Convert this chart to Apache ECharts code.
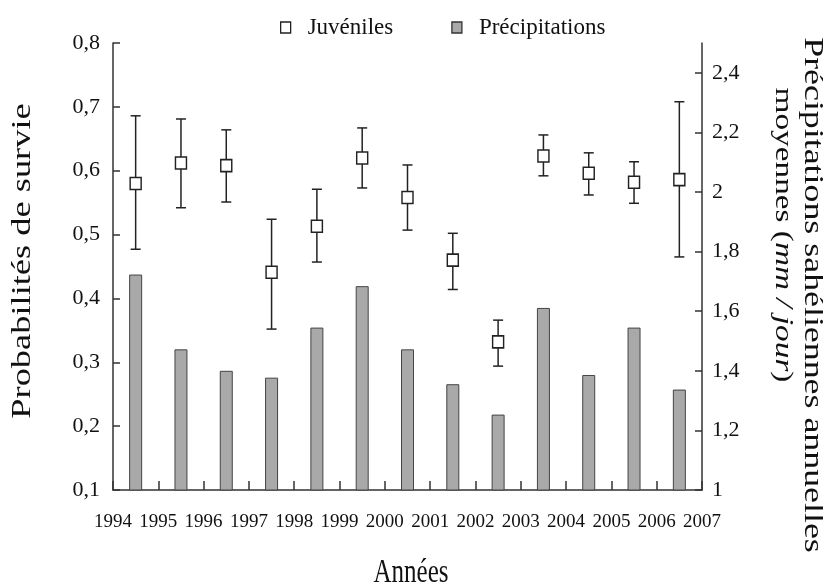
<!DOCTYPE html>
<html><head><meta charset="utf-8">
<script src="https://cdn.jsdelivr.net/npm/echarts@6/dist/echarts.min.js"></script>
<style>html,body{margin:0;padding:0;background:#fff}#c{width:823px;height:587px}</style>
</head><body><div id="c"></div>
<script>
// Seasons (start year of each interval)
const years = [1994,1995,1996,1997,1998,1999,2000,2001,2002,2003,2004,2005,2006];
// Juvenile survival probability and confidence limits
const survival = [0.580,0.612,0.608,0.441,0.513,0.620,0.558,0.460,0.332,0.623,0.596,0.582,0.586];
const lower    = [0.477,0.542,0.551,0.352,0.457,0.573,0.507,0.414,0.294,0.592,0.562,0.549,0.465];
const upper    = [0.686,0.681,0.664,0.524,0.571,0.667,0.609,0.502,0.366,0.656,0.628,0.614,0.708];
// Mean annual Sahelian precipitation (mm/day)
const precip   = [1.723,1.472,1.400,1.377,1.545,1.684,1.472,1.355,1.253,1.611,1.386,1.545,1.337];
// Tick labels
const xTickLabels = ['1994','1995','1996','1997','1998','1999','2000','2001','2002','2003','2004','2005','2006','2007'];
const leftTicks  = [0.1,0.2,0.3,0.4,0.5,0.6,0.7,0.8];
const rightTicks = [1,1.2,1.4,1.6,1.8,2,2.2,2.4];

const SERIF = '"Liberation Serif","Times New Roman",serif';
const AX = '#333';
const chart = echarts.init(document.getElementById('c'), null, {renderer:'canvas'});
const mid = years.map(y => y + 0.5);

chart.setOption({
  animation: false,
  backgroundColor: '#fff',
  textStyle: {fontFamily: SERIF, color: '#111'},
  grid: {left: 113, right: 121, top: 43, bottom: 97, containLabel: false},
  legend: {
    left: 275, top: 11, itemWidth: 10, itemHeight: 11, itemGap: 58,
    textStyle: {fontFamily: SERIF, fontSize: 23, color: '#111', padding: [0,0,0,12]},
    data: [
      {name: 'Juvéniles', icon: 'rect', itemStyle: {color: '#fff', borderColor: '#222', borderWidth: 1.3}},
      {name: 'Précipitations', icon: 'rect', itemStyle: {color: '#a9a9a9', borderColor: '#333', borderWidth: 1.3}}
    ]
  },
  xAxis: {
    type: 'value', min: 1994, max: 2007, interval: 1,
    axisLine: {lineStyle: {color: AX, width: 1.5}},
    axisTick: {inside: true, length: 9, lineStyle: {color: AX, width: 1.5}},
    axisLabel: {
      customValues: xTickLabels.map(Number),
      formatter: v => String(v), fontFamily: SERIF, fontSize: 19, color: '#111', margin: 23
    },
    splitLine: {show: false}
  },
  yAxis: [
    {
      type: 'value', min: 0.1, max: 0.8, position: 'left',
      axisLine: {show: true, lineStyle: {color: AX, width: 1.5}},
      axisTick: {show: true, inside: true, length: 7, customValues: leftTicks, lineStyle: {color: AX, width: 1.5}},
      axisLabel: {customValues: leftTicks, formatter: v => v.toFixed(1).replace('.', ','),
                  fontFamily: SERIF, fontSize: 22, color: '#111', margin: 13},
      splitLine: {show: false}
    },
    {
      type: 'value', min: 1, max: 2.5, position: 'right',
      axisLine: {show: true, lineStyle: {color: AX, width: 1.5}},
      axisTick: {show: true, inside: true, length: 7, customValues: rightTicks, lineStyle: {color: AX, width: 1.5}},
      axisLabel: {customValues: rightTicks, formatter: v => String(Math.round(v * 10) / 10).replace('.', ','),
                  fontFamily: SERIF, fontSize: 22, color: '#111', margin: 10},
      splitLine: {show: false}
    }
  ],
  series: [
    {
      name: 'Précipitations', type: 'bar', yAxisIndex: 1, barWidth: 13,
      itemStyle: {color: '#a9a9a9', borderColor: '#444', borderWidth: 1},
      data: mid.map((x, i) => [x, precip[i]])
    },
    {
      name: 'IC', type: 'custom', yAxisIndex: 0, z: 4,
      encode: {x: 0, y: [1, 2]},
      data: mid.map((x, i) => [x, lower[i], upper[i]]),
      renderItem: function (params, api) {
        const x = api.value(0);
        const pLo = api.coord([x, api.value(1)]);
        const pHi = api.coord([x, api.value(2)]);
        const hw = 5;
        const st = {stroke: '#222', lineWidth: 1.5};
        return {type: 'group', children: [
          {type: 'line', shape: {x1: pLo[0], y1: pLo[1], x2: pHi[0], y2: pHi[1]}, style: st},
          {type: 'line', shape: {x1: pLo[0] - hw, y1: pLo[1], x2: pLo[0] + hw, y2: pLo[1]}, style: st},
          {type: 'line', shape: {x1: pHi[0] - hw, y1: pHi[1], x2: pHi[0] + hw, y2: pHi[1]}, style: st}
        ]};
      }
    },
    {
      name: 'Juvéniles', type: 'scatter', yAxisIndex: 0, z: 5,
      symbol: 'rect', symbolSize: [11, 12],
      itemStyle: {color: '#fff', borderColor: '#222', borderWidth: 1.5, opacity: 1},
      data: mid.map((x, i) => [x, survival[i]])
    }
  ],
  graphic: [
    {type: 'text', x: 23, y: 261, rotation: Math.PI / 2, scaleX: 1.3,
     style: {text: 'Probabilités de survie', font: '28px ' + SERIF, fill: '#111', align: 'center', verticalAlign: 'middle'}},
    {type: 'text', x: 812, y: 295, rotation: -Math.PI / 2, scaleX: 1.28,
     style: {text: 'Précipitations sahéliennes annuelles', font: '28px ' + SERIF, fill: '#111', align: 'center', verticalAlign: 'middle'}},
    {type: 'text', x: 783, y: 235, rotation: -Math.PI / 2, scaleX: 1.28,
     style: {text: '{n|moyennes (}{i|mm / jour}{n|)}', fill: '#111', align: 'center', verticalAlign: 'middle',
             rich: {n: {fontFamily: SERIF, fontSize: 26, fill: '#111'},
                    i: {fontFamily: SERIF, fontSize: 26, fontStyle: 'italic', fill: '#111'}}}},
    {type: 'text', x: 411, y: 573, scaleY: 1.35,
     style: {text: 'Années', font: '25px ' + SERIF, fill: '#111', align: 'center', verticalAlign: 'middle'}}
  ]
});
</script>
</body></html>
